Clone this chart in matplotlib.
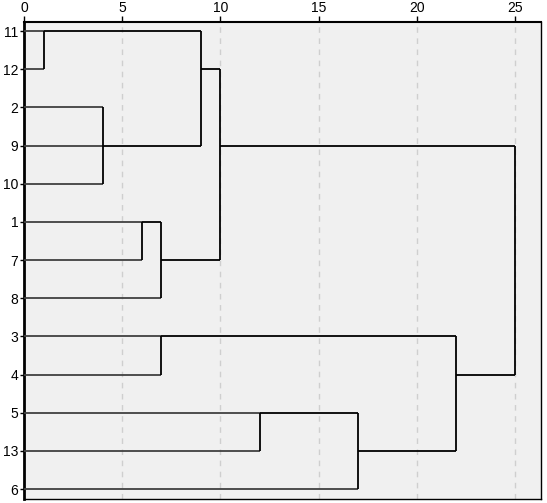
import matplotlib.pyplot as plt

plt.rcParams['font.family'] = ['Liberation Sans', 'DejaVu Sans']

# leaf labels, top to bottom
leaves = ["11", "12", "2", "9", "10", "1", "7", "8", "3", "4", "5", "13", "6"]

# merges: (name, children, rescaled distance)
merges = [
    ("A", ["11", "12"], 1),
    ("B", ["2", "9", "10"], 4),
    ("C", ["A", "B"], 9),
    ("D", ["1", "7"], 6),
    ("E", ["D", "8"], 7),
    ("F", ["C", "E"], 10),
    ("G", ["3", "4"], 7),
    ("H", ["5", "13"], 12),
    ("I", ["H", "6"], 17),
    ("J", ["G", "I"], 22),
    ("K", ["F", "J"], 25),
]

xticks = [0, 5, 10, 15, 20, 25]

fig = plt.figure(figsize=(5.47, 5.03), dpi=100)
ax = fig.add_axes([24 / 547, 1 - 499 / 503, 517 / 547, 477 / 503])
ax.set_facecolor("#f0f0f0")

# position and height of each node
pos = {name: i for i, name in enumerate(leaves)}
height = {name: 0 for name in leaves}

for name, kids, h in merges:
    rows = [pos[k] for k in kids]
    for k in kids:
        col = "#404040" if k in leaves else "black"
        ax.plot([height[k], h], [pos[k], pos[k]], color=col, lw=1.3,
                solid_capstyle="butt", zorder=3)
    ax.plot([h, h], [min(rows), max(rows)], color="black", lw=1.3,
            solid_capstyle="butt", zorder=3)
    pos[name] = (min(rows) + max(rows)) // 2
    height[name] = h

for t in xticks[1:]:
    ax.axvline(t, color="#cfcfcf", lw=1, ls=(0, (4, 4)), zorder=1)

ax.set_xlim(0, 517 / 19.64)
ax.set_ylim(12.26, -0.24)

ax.xaxis.tick_top()
ax.set_xticks(xticks)
ax.set_xticklabels([str(t) for t in xticks])
ax.set_yticks(range(len(leaves)))
ax.set_yticklabels(leaves)
ax.tick_params(axis="x", length=4, width=1, pad=1, labelsize=10)
ax.tick_params(axis="y", length=3, width=1, pad=1, labelsize=10)

for s in ax.spines.values():
    s.set_color("black")
    s.set_linewidth(1)
ax.spines["left"].set_linewidth(2)
ax.spines["top"].set_linewidth(1.5)

fig.savefig("out.png", dpi=100)
